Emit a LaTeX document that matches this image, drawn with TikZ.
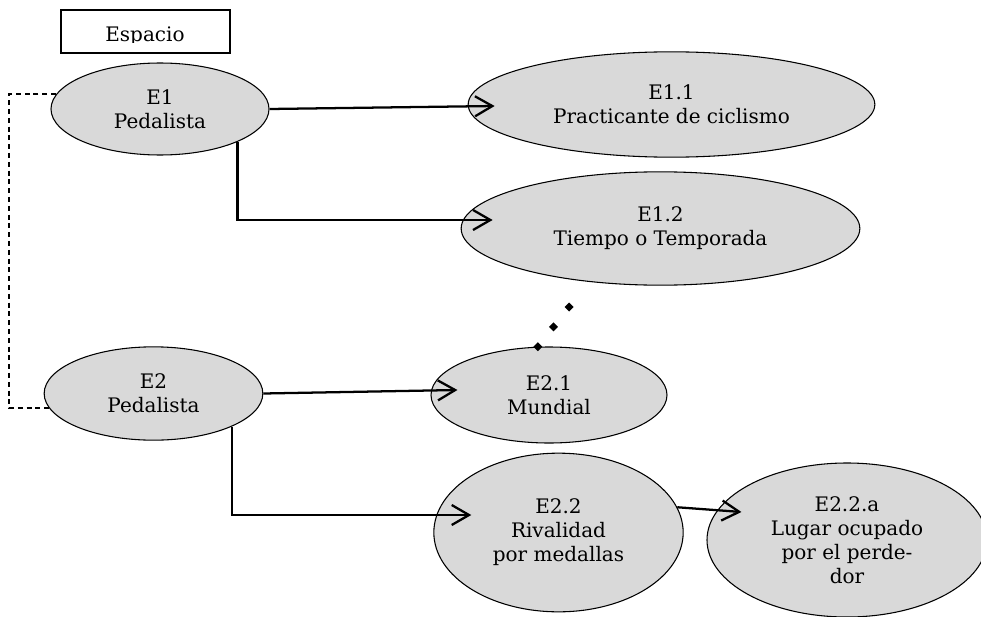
\documentclass[tikz,border=0pt]{standalone}
\usepackage{fontspec}
\setmainfont{DejaVu Serif}
\usetikzlibrary{calc,shapes.geometric,arrows.meta}
\definecolor{gris}{HTML}{D9D9D9}

\begin{document}
\begin{tikzpicture}[x=0.75pt, y=-0.75pt,
  estado/.style={ellipse, draw, line width=0.8pt, fill=gris, inner sep=0pt,
    align=center, font=\fontsize{15}{18}\selectfont},
  flecha/.style={line width=1.7pt, -{Straight Barb[length=13pt,width=15pt]}},
  enlace/.style={line width=1.4pt, dash pattern=on 3.8pt off 2.8pt}]
  \clip (0,0) rectangle (981,617);

  % caja del espacio
  \node[draw, line width=2pt, minimum width=126.75pt, minimum height=32.25pt,
    inner sep=0pt] (espacio) at (145.5,31.5) {};
  \begin{scope}
    \clip (62,11) rectangle (229,43);
    \node[anchor=base, inner sep=0pt, font=\fontsize{15}{18}\selectfont]
      (espaciotxt) at (145,42) {Espacio};
  \end{scope}

  % estados
  \node[estado, minimum width=163.5pt, minimum height=69pt]  (E1)   at (160,109)     {E1\\Pedalista};
  \node[estado, minimum width=305pt,   minimum height=79pt]  (E11)  at (671.5,104.5) {E1.1\\Practicante de ciclismo};
  \node[estado, minimum width=299pt,   minimum height=85pt]  (E12)  at (660.5,228.5) {E1.2\\Tiempo o Temporada};
  \node[estado, minimum width=164pt,   minimum height=70pt]  (E2)   at (153.5,393.5) {E2\\Pedalista};
  \node[estado, minimum width=177pt,   minimum height=72pt]  (E21)  at (549,395)     {E2.1\\Mundial};
  \node[estado, minimum width=187pt,   minimum height=119pt] (E22)  at (558.5,532.5) {E2.2\\Rivalidad\\por medallas};
  \node[estado, minimum width=210pt,   minimum height=115.5pt] (E22a) at (847,540)   {E2.2.a\\Lugar ocupado\\por el perde-\\dor};

  % flechas
  \draw[flecha] (E1.east) -- ($(E11.west)+(27,1.5)$);
  \draw[flecha] (E1.-23) |- ($(E12.west)+(32,-8.5)$);
  \draw[flecha] (E2.east) -- ($(E21.west)+(27,-5)$);
  \draw[flecha] (E2.-23.5) |- ($(E22.west)+(38,-17.5)$);
  \draw[flecha] (E22.12) -- ($(E22a.west)+(35,-28)$);

  % enlace punteado entre E1 y E2
  \coordinate (brk) at (9,250);
  \draw[enlace] (E1.172) -| (brk) |- (E2.188);

  % puntos (E2.1 hacia E1.2)
  \coordinate (puntos) at (569,307);
  \foreach \t in {0,0.5,1}
    \fill ($(E21.103)!\t!(puntos)$) +(0,-4.5) -- +(4.5,0) -- +(0,4.5) -- +(-4.5,0) -- cycle;
\end{tikzpicture}
\end{document}
